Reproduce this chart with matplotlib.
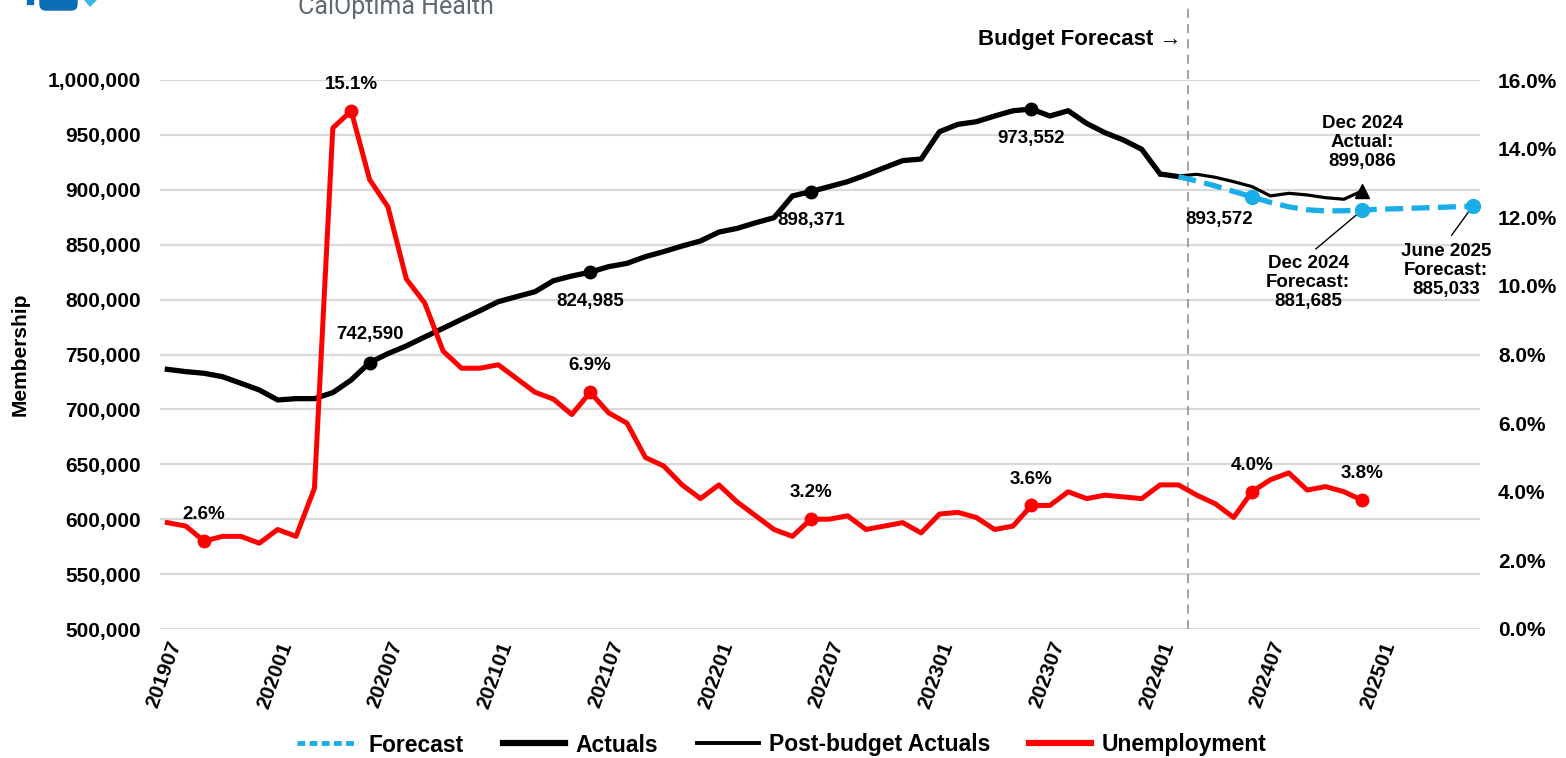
import matplotlib
matplotlib.use("Agg")
import numpy as np
import pandas as pd
import matplotlib.pyplot as plt
from matplotlib.lines import Line2D
from matplotlib.patches import Polygon, Rectangle, FancyBboxPatch
from matplotlib.ticker import FuncFormatter, MultipleLocator

plt.rcParams["font.family"] = ["Liberation Sans", "DejaVu Sans"]
plt.rcParams["font.weight"] = "bold"

W, H = 1566, 758

# monthly categories 201907 .. 202506
MONTHS = pd.period_range("2019-07", "2025-06", freq="M").strftime("%Y%m").tolist()

# membership actuals, 201907 .. 202402
ACTUALS = [
    736500, 734400, 732900, 729800, 723800, 717700, 708600, 709800, 709800, 715300,
    726800, 742590, 750800, 757800, 766000, 773900, 782000, 789900, 798100, 802700,
    807200, 817200, 821500, 824985, 830000, 833000, 839100, 843700, 848800, 853400,
    861500, 864900, 870000, 874600, 894400, 898371, 902900, 907400, 913500, 920100,
    926600, 928000, 952900, 959600, 962000, 967200, 972000, 973552, 967200, 972000,
    960500, 952000, 945400, 936900, 914400, 912000,
]

# actuals reported after the budget was set, 202401 .. 202412
POST_START = 54
POST_BUDGET = [913500, 912600, 914100, 911400, 907400, 902900, 894400, 896800,
               895300, 892800, 891400, 899086]

# budget forecast, 202402 .. 202506
FC_START = 55
FORECAST = [912000, 908000, 903500, 898500, 893572, 888500, 884500, 881800,
            880800, 880900, 881685, 882300, 882800, 883400, 883900, 884500, 885033]

# unemployment rate (%), 201907 .. 202412
UNEMPLOYMENT = [
    3.1, 3.0, 2.56, 2.7, 2.7, 2.5, 2.9, 2.7, 4.1, 14.6,
    15.1, 13.1, 12.3, 10.2, 9.5, 8.1, 7.6, 7.6, 7.7, 7.3,
    6.9, 6.7, 6.25, 6.9, 6.3, 6.0, 5.0, 4.75, 4.2, 3.8,
    4.2, 3.7, 3.3, 2.9, 2.7, 3.2, 3.2, 3.3, 2.9, 3.0,
    3.1, 2.8, 3.35, 3.4, 3.25, 2.9, 3.0, 3.6, 3.6, 4.0,
    3.8, 3.9, 3.85, 3.8, 4.2, 4.2, 3.9, 3.65, 3.25, 4.0,
    4.35, 4.55, 4.05, 4.15, 4.0, 3.75,
]

ACTUAL_MARKS = [11, 23, 35, 47]
UNEMP_MARKS = [2, 10, 23, 35, 47, 59, 65]
FC_MARKS = [59, 65, 71]
BUDGET_LINE = 55.5

BLUE = "#1aaee8"
RED = "#ff0000"
GRID = "#d9d9d9"

x = np.arange(len(MONTHS))
x_act = x[:len(ACTUALS)]
x_post = x[POST_START:POST_START + len(POST_BUDGET)]
x_fc = x[FC_START:FC_START + len(FORECAST)]
x_un = x[:len(UNEMPLOYMENT)]

fig = plt.figure(figsize=(W / 100, H / 100), dpi=100)
ax = fig.add_axes([160 / W, 1 - 629 / H, 1320 / W, 549 / H])
ax2 = ax.twinx()

# membership side
ax.plot(x_act, ACTUALS, color="black", lw=3.8, solid_joinstyle="round", zorder=3)
ax.plot(x_post, POST_BUDGET, color="black", lw=2.3, solid_joinstyle="round", zorder=3)
ax.plot(x_fc, FORECAST, color=BLUE, lw=3.8, dashes=(3.4, 1.6), zorder=4)

act = np.array(ACTUALS)
ax.plot(x_act[ACTUAL_MARKS], act[ACTUAL_MARKS], "o", color="black", ms=9, zorder=5)
fc = dict(zip(x_fc, FORECAST))
ax.plot(FC_MARKS, [fc[i] for i in FC_MARKS], "o", color=BLUE, ms=10, zorder=5)
ax.plot(x_post[-1], POST_BUDGET[-1], "^", color="black", ms=10, zorder=5)

lab = dict(ha="center", va="center", fontsize=13.5, fontweight="bold",
           textcoords="offset points")
for i in ACTUAL_MARKS:
    dy = 20 if i == 11 else -21
    ax.annotate(f"{ACTUALS[i]:,}", (i, ACTUALS[i]), xytext=(0, dy), **lab)
ax.annotate(f"{fc[59]:,}", (59, fc[59]), xytext=(-24, -16), **lab)
ax.annotate(f"Dec 2024\nActual:\n{POST_BUDGET[-1]:,}", (x_post[-1], POST_BUDGET[-1]),
            xytext=(0, 34.5), linespacing=1.15, **lab)
lead = dict(arrowstyle="-", color="black", lw=1, relpos=(0.5, 1.0),
            shrinkA=4, shrinkB=5)
ax.annotate(f"Dec 2024\nForecast:\n{fc[65]:,}", (65, fc[65]), xytext=(-39, -52.5),
            arrowprops=lead, linespacing=1.15, **lab)
ax.annotate(f"June 2025\nForecast:\n{fc[71]:,}", (71, fc[71]), xytext=(-19, -46),
            arrowprops=lead, linespacing=1.15, **lab)

ax.set_ylim(500000, 1000000)
ax.yaxis.set_major_locator(MultipleLocator(50000))
ax.yaxis.set_major_formatter(FuncFormatter(lambda v, p: f"{v:,.0f}"))
ax.yaxis.grid(True, color=GRID, lw=1.6)
ax.set_axisbelow(True)
ax.set_xlim(-0.4, 71.4)
ax.set_xticks(x[::6])
ax.set_xticklabels(MONTHS[::6], rotation=70, ha="right", rotation_mode="anchor",
                   fontsize=15, fontweight="bold")
ax.tick_params(axis="x", length=0, pad=7)
ax.tick_params(axis="y", length=0, pad=14, labelsize=15)
ax.set_ylabel("Membership", fontsize=15, fontweight="bold")
ax.yaxis.set_label_coords(-0.0985, 0.5)

ax.axvline(BUDGET_LINE, ymin=0, ymax=(629 - 5) / 549, clip_on=False,
           color="#8a8a8a", lw=1.1, ls=(0, (6, 4)), zorder=2)

# unemployment side
ax2.plot(x_un, UNEMPLOYMENT, color=RED, lw=3.6, solid_joinstyle="round", zorder=3)
un = np.array(UNEMPLOYMENT)
ax2.plot(x_un[UNEMP_MARKS], un[UNEMP_MARKS], "o", color=RED, ms=9, zorder=4)
for i in UNEMP_MARKS:
    ax2.annotate(f"{UNEMPLOYMENT[i]:.1f}%", (i, UNEMPLOYMENT[i]), xytext=(0, 19), **lab)
ax2.set_ylim(0, 16)
ax2.yaxis.set_major_locator(MultipleLocator(2))
ax2.yaxis.set_major_formatter(FuncFormatter(lambda v, p: f"{v:.1f}%"))
ax2.tick_params(axis="y", length=0, pad=13, labelsize=15)

for a in (ax, ax2):
    for s in a.spines.values():
        s.set_visible(False)

fig.text(1182 / W, 1 - 40 / H, "Budget Forecast \u2192", ha="right", va="center",
         fontsize=16, fontweight="bold")

handles = [
    Line2D([], [], color=BLUE, lw=3.5, dashes=(1.6, 0.9)),
    Line2D([], [], color="black", lw=4.5),
    Line2D([], [], color="black", lw=2.8),
    Line2D([], [], color=RED, lw=4.5),
]
fig.legend(handles, ["Forecast", "Actuals", "Post-budget Actuals", "Unemployment"],
           loc="center", bbox_to_anchor=(0.499, 1 - 745 / H), ncol=4, frameon=False,
           fontsize=16.5, handlelength=2.7, handletextpad=0.45, columnspacing=1.7)

# logo strip at the top edge, cut by the page border
logo = fig.add_axes([0, 0, 1, 1], zorder=-1)
logo.set_xlim(0, W)
logo.set_ylim(H, 0)
logo.axis("off")
logo.add_patch(Rectangle((27, -5), 6, 9, color="#0b6db3"))
logo.add_patch(FancyBboxPatch((40, -20), 37, 30, boxstyle="round,pad=0,rounding_size=6",
                              color="#0b6db3"))
logo.add_patch(Polygon([(84, -1), (97, -1), (90, 6)], closed=True, color="#3bb8ea"))
logo.text(298, 14, "CalOptima Health", fontsize=18, family="Roboto",
          fontweight="normal", color="#5f6a72", va="baseline", ha="left")

fig.savefig("out.png", dpi=100)
